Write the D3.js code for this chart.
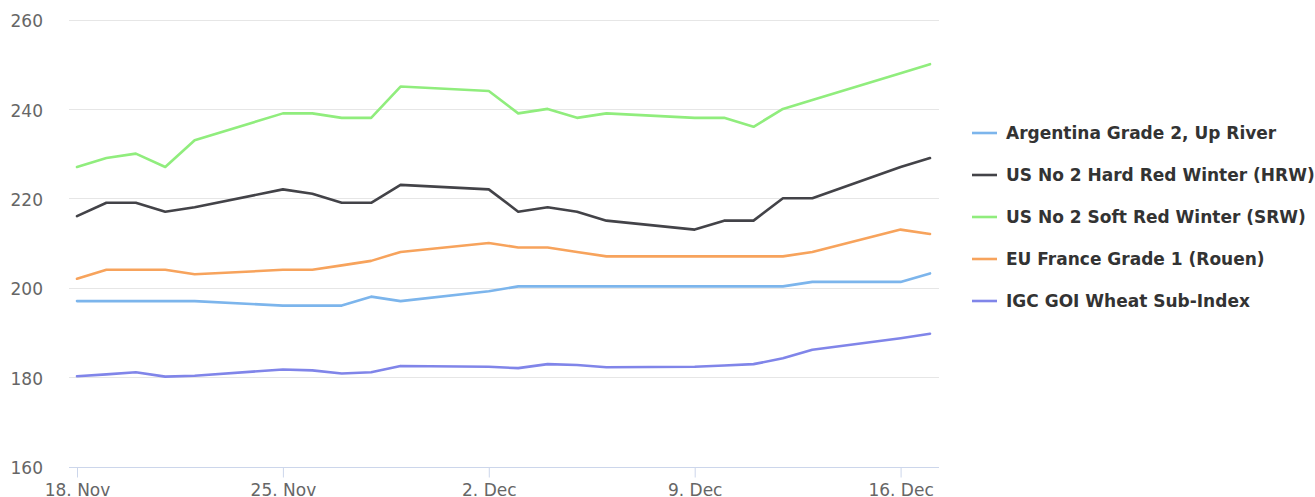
<!DOCTYPE html>
<html>
<head>
<meta charset="utf-8">
<script src="https://cdn.jsdelivr.net/npm/d3@7"></script>
<style>
  html, body { margin: 0; padding: 0; background: #fff; }
  svg { display: block; font-family: "DejaVu Sans", Verdana, sans-serif; }
</style>
</head>
<body>
<div id="chart"></div>
<script>
// trading days, Nov 18 - Dec 17
const dates = [
  '2019-11-18', '2019-11-19', '2019-11-20', '2019-11-21', '2019-11-22',
  '2019-11-25', '2019-11-26', '2019-11-27', '2019-11-28', '2019-11-29',
  '2019-12-02', '2019-12-03', '2019-12-04', '2019-12-05', '2019-12-06',
  '2019-12-09', '2019-12-10', '2019-12-11', '2019-12-12', '2019-12-13',
  '2019-12-16', '2019-12-17'
];

const argentina = [197, 197, 197, 197, 197, 196, 196, 196, 198, 197, 199.2, 200.3, 200.3, 200.3, 200.3, 200.3, 200.3, 200.3, 200.3, 201.3, 201.3, 203.2];
const hrw = [216, 219, 219, 217, 218, 222, 221, 219, 219, 223, 222, 217, 218, 217, 215, 213, 215, 215, 220, 220, 227, 229];
const srw = [227, 229, 230, 227, 233, 239, 239, 238, 238, 245, 244, 239, 240, 238, 239, 238, 238, 236, 240, 242, 248, 250];
const rouen = [202, 204, 204, 204, 203, 204, 204, 205, 206, 208, 210, 209, 209, 208, 207, 207, 207, 207, 207, 208, 213, 212];
const goi = [180.2, 180.6, 181.1, 180.1, 180.3, 181.7, 181.5, 180.8, 181.1, 182.5, 182.3, 182.0, 182.9, 182.7, 182.2, 182.3, 182.6, 182.9, 184.2, 186.1, 188.7, 189.7];

const seriesNames = [
  'Argentina Grade 2, Up River',
  'US No 2 Hard Red Winter (HRW)',
  'US No 2 Soft Red Winter (SRW)',
  'EU France Grade 1 (Rouen)',
  'IGC GOI Wheat Sub-Index'
];
const seriesValues = [argentina, hrw, srw, rouen, goi];
const colors = ['#7cb5ec', '#434348', '#90ed7d', '#f7a35c', '#8085e9'];

const yTicks = [160, 180, 200, 220, 240, 260];
const xTicks = ['2019-11-18', '2019-11-25', '2019-12-02', '2019-12-09', '2019-12-16'];

const width = 1315, height = 497;
const parse = d3.utcParse('%Y-%m-%d');
const dayList = dates.map(parse);

const svg = d3.select('#chart').append('svg')
  .attr('width', width)
  .attr('height', height);

const x = d3.scaleUtc()
  .domain([parse('2019-11-18'), parse('2019-12-17')])
  .range([77, 930]);
const y = d3.scaleLinear()
  .domain([160, 260])
  .range([466.5, 19.5]);

const plotLeft = 69, plotRight = 939;

// grid
svg.append('g').selectAll('line')
  .data(yTicks.slice(1))
  .join('line')
    .attr('x1', plotLeft).attr('x2', plotRight)
    .attr('y1', d => Math.round(y(d)) + 0.5)
    .attr('y2', d => Math.round(y(d)) + 0.5)
    .attr('stroke', '#e6e6e6')
    .attr('stroke-width', 1);

// y labels
svg.append('g').selectAll('text')
  .data(yTicks)
  .join('text')
    .attr('x', 43)
    .attr('y', d => y(d))
    .attr('dy', '0.45em')
    .attr('text-anchor', 'end')
    .attr('fill', '#666666')
    .style('font-size', '17px')
    .text(d => d);

// x axis
const xAxis = d3.axisBottom(x)
  .tickValues(xTicks.map(parse))
  .tickSize(10)
  .tickPadding(6)
  .tickFormat(d3.utcFormat('%-d. %b'));

const gx = svg.append('g')
  .attr('transform', 'translate(0,' + (Math.round(y(160)) + 0.5) + ')')
  .call(xAxis);
gx.select('.domain').remove();
gx.selectAll('.tick line').attr('stroke', '#ccd6eb');
gx.selectAll('.tick text')
  .attr('fill', '#666666')
  .style('font-size', '17px')
  .style('font-family', '"DejaVu Sans", Verdana, sans-serif');
gx.append('line')
  .attr('x1', plotLeft).attr('x2', plotRight)
  .attr('y1', 0).attr('y2', 0)
  .attr('stroke', '#ccd6eb');

// lines
const line = d3.line()
  .x((d, i) => x(dayList[i]))
  .y(d => y(d));

svg.append('g').selectAll('path')
  .data(seriesValues)
  .join('path')
    .attr('d', d => line(d))
    .attr('fill', 'none')
    .attr('stroke', (d, i) => colors[i])
    .attr('stroke-width', 2.6)
    .attr('stroke-linejoin', 'round')
    .attr('stroke-linecap', 'round');

// legend
const legend = svg.append('g').selectAll('g')
  .data(seriesNames)
  .join('g')
    .attr('transform', (d, i) => 'translate(0,' + (133 + i * 42) + ')');

legend.append('line')
  .attr('x1', 972).attr('x2', 997)
  .attr('y1', 0).attr('y2', 0)
  .attr('stroke', (d, i) => colors[i])
  .attr('stroke-width', 2.6);

legend.append('text')
  .attr('x', 1006)
  .attr('y', 0)
  .attr('dy', '0.36em')
  .attr('fill', '#333333')
  .style('font-size', '17px')
  .style('font-weight', 'bold')
  .text(d => d);
</script>
</body>
</html>
